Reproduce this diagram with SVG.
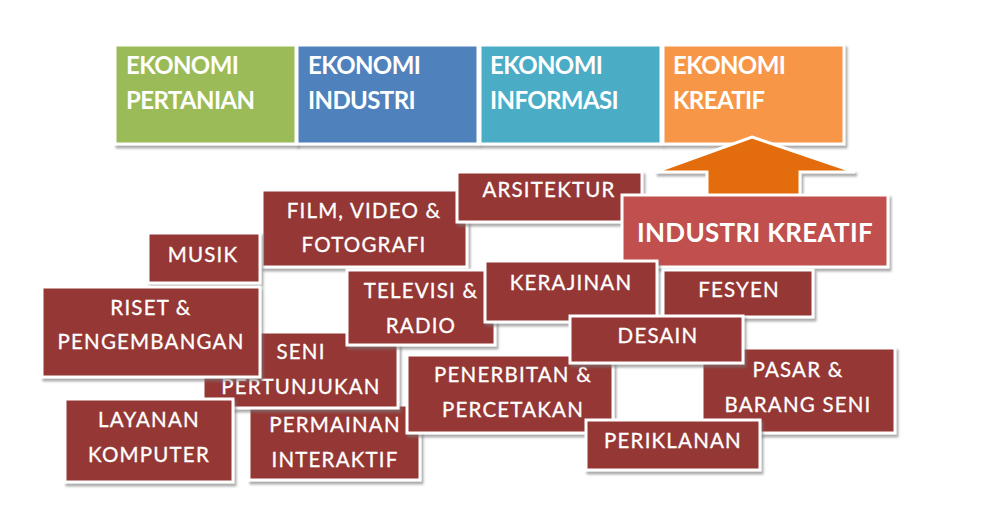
<svg xmlns="http://www.w3.org/2000/svg" width="982" height="507" viewBox="0 0 982 507">
<defs>
<filter id="sh" x="-10%" y="-10%" width="130%" height="140%">
<feDropShadow dx="2" dy="3" stdDeviation="1" flood-color="#777" flood-opacity="0.6"/>
</filter>
<style>
.b{stroke:#fff;stroke-width:3;filter:url(#sh)}
.r{fill:#953735}
.t{font-family:Lato,"Open Sans",sans-serif;font-size:20.5px;fill:#fff;text-anchor:middle;letter-spacing:1.2px;stroke:#fff;stroke-width:0.3px}
.h{font-family:Lato,"Open Sans",sans-serif;font-size:24px;font-weight:bold;fill:#fff;letter-spacing:-0.6px}
.k{font-family:Lato,"Open Sans",sans-serif;font-size:26px;font-weight:bold;fill:#fff;text-anchor:middle;letter-spacing:0.3px}
</style>
</defs>
<rect width="982" height="507" fill="#fff"/>
<g id="ekonomi-pertanian"><rect class="b" x="115" y="45" width="181" height="99" fill="#9BBB59"/><text class="h" x="126" y="74">EKONOMI</text><text class="h" x="126" y="109">PERTANIAN</text></g>
<g id="ekonomi-industri"><rect class="b" x="297" y="45" width="181" height="99" fill="#4F81BD"/><text class="h" x="308" y="74">EKONOMI</text><text class="h" x="308" y="109">INDUSTRI</text></g>
<g id="ekonomi-informasi"><rect class="b" x="480" y="45" width="181" height="99" fill="#4BACC6"/><text class="h" x="490" y="74">EKONOMI</text><text class="h" x="490" y="109">INFORMASI</text></g>
<g id="ekonomi-kreatif"><rect class="b" x="663" y="45" width="181" height="99" fill="#F79646"/><text class="h" x="673" y="74">EKONOMI</text><text class="h" x="673" y="109">KREATIF</text></g>
<g id="connectors"><polygon class="b" points="752,137 855,172 800,172 800,205 707,205 707,172 655,172" fill="#E36C09"/></g>
<g id="film"><rect class="b r" x="262" y="190" width="205" height="77"/><text class="t" x="364" y="218">FILM, VIDEO &amp;</text><text class="t" x="364" y="252">FOTOGRAFI</text></g>
<g id="arsitektur"><rect class="b r" x="457" y="172" width="185" height="50"/><text class="t" x="549" y="197">ARSITEKTUR</text></g>
<g id="industri-kreatif"><rect class="b" x="622" y="195" width="266" height="72" fill="#C0504D"/><text class="k" x="755" y="242">INDUSTRI KREATIF</text></g>
<g id="musik"><rect class="b r" x="148" y="233" width="112" height="50"/><text class="t" x="203" y="262">MUSIK</text></g>
<g id="permainan"><rect class="b r" x="249" y="405" width="171" height="75"/><text class="t" x="335" y="432">PERMAINAN</text><text class="t" x="335" y="467">INTERAKTIF</text></g>
<g id="seni"><rect class="b r" x="203" y="332" width="195" height="76"/><text class="t" x="301" y="359">SENI</text><text class="t" x="301" y="394">PERTUNJUKAN</text></g>
<g id="riset"><rect class="b r" x="42" y="287" width="218" height="90"/><text class="t" x="151" y="315">RISET &amp;</text><text class="t" x="151" y="349">PENGEMBANGAN</text></g>
<g id="televisi"><rect class="b r" x="347" y="270" width="148" height="75"/><text class="t" x="421" y="298">TELEVISI &amp;</text><text class="t" x="421" y="333">RADIO</text></g>
<g id="kerajinan"><rect class="b r" x="485" y="261" width="172" height="61"/><text class="t" x="571" y="290">KERAJINAN</text></g>
<g id="fesyen"><rect class="b r" x="663" y="270" width="150" height="47"/><text class="t" x="739" y="297">FESYEN</text></g>
<g id="penerbitan"><rect class="b r" x="407" y="355" width="206" height="78"/><text class="t" x="513" y="382">PENERBITAN &amp;</text><text class="t" x="513" y="417">PERCETAKAN</text></g>
<g id="pasar"><rect class="b r" x="702" y="348" width="193" height="85"/><text class="t" x="798" y="377">PASAR &amp;</text><text class="t" x="798" y="412">BARANG SENI</text></g>
<g id="desain"><rect class="b r" x="570" y="316" width="173" height="47"/><text class="t" x="658" y="343">DESAIN</text></g>
<g id="periklanan"><rect class="b r" x="586" y="420" width="174" height="50"/><text class="t" x="673" y="448">PERIKLANAN</text></g>
<g id="layanan"><rect class="b r" x="65" y="399" width="168" height="83"/><text class="t" x="149" y="427">LAYANAN</text><text class="t" x="149" y="462">KOMPUTER</text></g>
</svg>
